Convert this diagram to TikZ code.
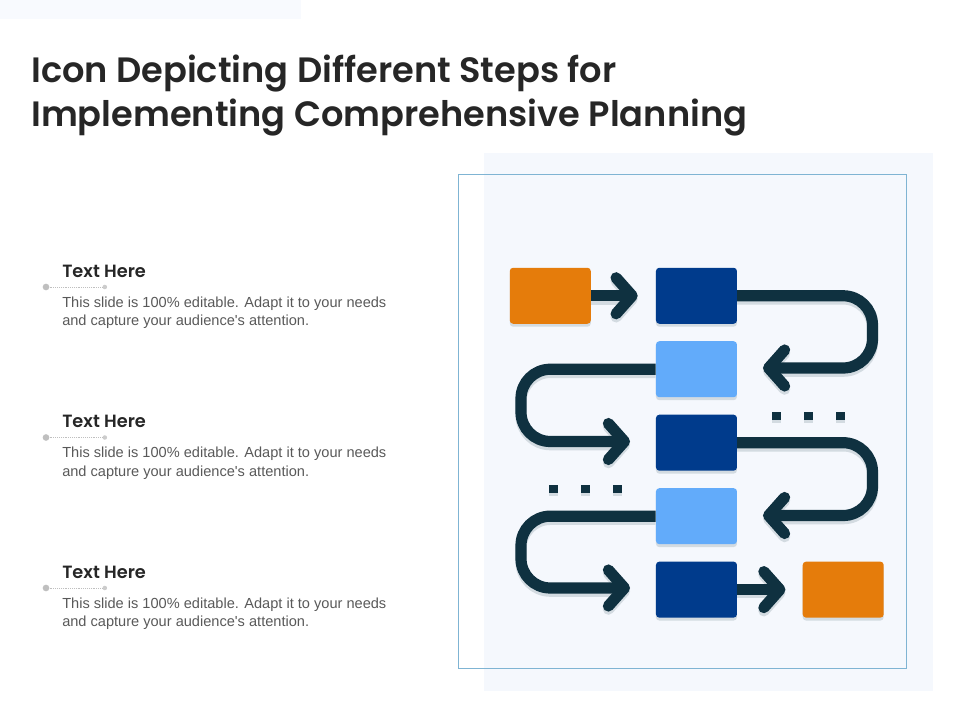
\documentclass[tikz,border=0pt]{standalone}
\usepackage{fontspec}
\usepackage{xcolor}
\setmainfont{Liberation Sans}
\newfontfamily\headfont{Poppins}[BoldFont={Poppins SemiBold}]
\usetikzlibrary{arrows.meta,positioning,shadows}

\definecolor{panelblue}{HTML}{F5F8FD}
\definecolor{framelight}{HTML}{7FB4D3}
\definecolor{orangebox}{HTML}{E57C0B}
\definecolor{darkbox}{HTML}{003B8C}
\definecolor{lightbox}{HTML}{62ABFA}
\definecolor{linedark}{HTML}{0F3140}
\definecolor{shadegray}{HTML}{D3DBE1}

\begin{document}
\begin{tikzpicture}[
    x=0.75pt, y=-0.75pt,
    % Box styles
    stepbox/.style={rectangle, rounded corners=2.5pt, minimum width=60.75pt, minimum height=42pt,
        inner sep=0pt, drop shadow={shadow xshift=0pt, shadow yshift=-2.2pt, fill=shadegray, opacity=1}},
    endbox/.style={stepbox, fill=orangebox},
    darkstep/.style={stepbox, fill=darkbox},
    lightstep/.style={stepbox, fill=lightbox},
    dotbox/.style={rectangle, minimum size=6.6pt, inner sep=0pt, fill=linedark,
        drop shadow={shadow xshift=0pt, shadow yshift=-2.2pt, fill=shadegray, opacity=1}},
    % Arrow styles
    arrow/.style={-{Straight Barb[length=12pt, width=27pt, line width=8.4pt, round]},
        line width=8.4pt, draw=linedark, rounded corners=22pt},
    arrowshade/.style={arrow, draw=shadegray, transform canvas={yshift=-2.4pt}},
    % Text styles
    title/.style={font=\headfont\fontsize{26.4}{33}\selectfont\bfseries, text=black!85, anchor=north west,
        align=left, inner sep=0pt},
    heading/.style={font=\headfont\fontsize{13.3}{15}\selectfont\bfseries, text=black!85, anchor=base west, inner sep=0pt},
    bodytext/.style={font=\fontsize{10.94}{13.7}\selectfont, text=black!65, anchor=north west, align=left, inner sep=0pt},
    bigdot/.style={circle, fill=black!25, minimum size=5pt, inner sep=0pt},
    smalldot/.style={circle, fill=black!20, minimum size=3.4pt, inner sep=0pt},
    leader/.style={draw=black!25, line width=0.4pt, densely dotted}
]
    \useasboundingbox (0,0) rectangle (960,720);

    % Background panels and frame
    \fill[panelblue!70] (0,0) rectangle (301,19);
    \fill[panelblue] (484,153) rectangle (933,691);
    \draw[framelight, line width=0.6pt] (458.5,174.5) rectangle (906.5,668);

    % Title
    \node[title] (heading) at (31,55) {Icon Depicting Different Steps for\\Implementing Comprehensive Planning};

    % Text blocks
    \foreach \n/\y in {one/287, two/437.5, three/588} {
        \node[bigdot] (dot\n) at (46,\y) {};
        \node[smalldot, right=39.5pt of dot\n] (end\n) {};
        \draw[leader] (dot\n) -- (end\n);
        \node[heading] (head\n) at (62,\y-10) {Text Here};
        \node[bodytext] (body\n) at (62,\y+9.5) {This slide is 100\% editable. Adapt it to your needs\\and capture your audience\textquotesingle s attention.};
    }

    % Boxes
    \node[endbox, anchor=north west] (start) at (509.5,267.5) {};
    \node[darkstep, right=48.5pt of start] (stepa) {};
    \node[lightstep, below=12.7pt of stepa] (stepb) {};
    \node[darkstep, below=12.7pt of stepb] (stepc) {};
    \node[lightstep, below=12.7pt of stepc] (stepd) {};
    \node[darkstep, below=12.7pt of stepd] (stepe) {};
    \node[endbox, right=48.9pt of stepe] (finish) {};

    % Arrow ends
    \coordinate (tipa) at (763,368);
    \coordinate (tipb) at (630,441.5);
    \coordinate (tipc) at (763,515.5);
    \coordinate (tipd) at (630,588);

    % Connectors, shade first
    \foreach \sty in {arrowshade, arrow} {
        \draw[\sty, shorten >=13.5pt] (start) -- (stepa);
        \draw[\sty] (stepa.east) -| (872.5,368) -- (tipa);
        \draw[\sty] (stepb.west) -| (521,441.5) -- (tipb);
        \draw[\sty] (stepc.east) -| (872.5,515.5) -- (tipc);
        \draw[\sty] (stepd.west) -| (521,588) -- (tipd);
        \draw[\sty, shorten >=12.75pt] (stepe) -- (finish);
    }

    % Dots
    \foreach \i/\x in {1/776.5, 2/808.5, 3/840.5} {
        \node[dotbox] (upper\i) at (\x,416) {};
    }
    \foreach \i/\x in {1/553.5, 2/585.5, 3/617.5} {
        \node[dotbox] (lower\i) at (\x,489) {};
    }
\end{tikzpicture}
\end{document}
